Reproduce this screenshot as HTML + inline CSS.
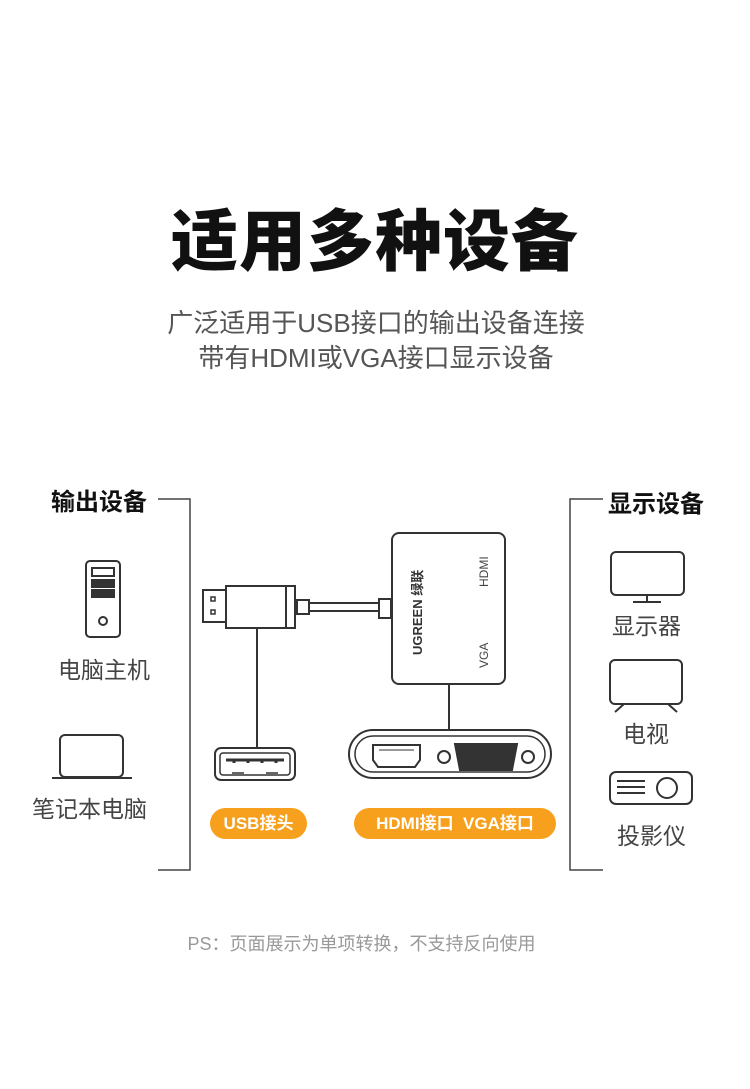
<!DOCTYPE html>
<html><head><meta charset="utf-8"><style>
html,body{margin:0;padding:0;background:#fff}
body{width:750px;height:1089px;position:relative;overflow:hidden;font-family:"Liberation Sans","Noto Sans CJK SC",sans-serif}
.t{position:absolute;white-space:nowrap}
</style></head><body>
<div class="t" style="left:0;width:750px;top:188px;text-align:center;font-size:67px;font-weight:900;color:#111;letter-spacing:1px">适用多种设备</div>
<div class="t" style="left:0;width:752px;top:306px;text-align:center;font-size:26px;color:#555;line-height:35px">广泛适用于USB接口的输出设备连接<br>带有HDMI或VGA接口显示设备</div>
<div class="t" style="left:51px;top:482px;font-size:24px;font-weight:bold;color:#111">输出设备</div>
<div class="t" style="left:608px;top:484px;font-size:24px;font-weight:bold;color:#111">显示设备</div>
<div class="t" style="left:58px;top:651px;font-size:23px;color:#444">电脑主机</div>
<div class="t" style="left:32px;top:790px;font-size:23px;color:#444">笔记本电脑</div>
<div class="t" style="left:612px;top:607px;font-size:23px;color:#444">显示器</div>
<div class="t" style="left:623px;top:715px;font-size:23px;color:#444">电视</div>
<div class="t" style="left:617px;top:817px;font-size:23px;color:#444">投影仪</div>
<div class="t" style="left:210px;top:808px;width:97px;height:31px;border-radius:16px;background:#f7a01d;color:#fff;font-size:17px;font-weight:bold;text-align:center;line-height:31px">USB接头</div>
<div class="t" style="left:354px;top:808px;width:202px;height:31px;border-radius:16px;background:#f7a01d;color:#fff;font-size:17px;font-weight:bold;text-align:center;line-height:31px">HDMI接口&nbsp; VGA接口</div>
<div class="t" style="left:0;width:723px;top:930px;text-align:center;font-size:18px;color:#999">PS：页面展示为单项转换，不支持反向使用</div>
<svg width="750" height="1089" style="position:absolute;left:0;top:0" fill="none" stroke="#333" stroke-width="2">
<path d="M158 499H190V870H158" stroke="#444" stroke-width="1.5"/>
<path d="M603 499H570V870H603" stroke="#444" stroke-width="1.5"/>
<rect x="86" y="561" width="34" height="76" rx="4"/>
<rect x="92" y="568" width="22" height="8"/>
<rect x="92" y="580" width="22" height="7" fill="#333"/>
<rect x="92" y="590" width="22" height="7" fill="#333"/>
<circle cx="103" cy="621" r="4"/>
<rect x="60" y="735" width="63" height="42" rx="5"/>
<path d="M52 778H132"/>
<rect x="611" y="552" width="73" height="43" rx="5"/>
<path d="M647 595V602M633 602H661"/>
<rect x="610" y="660" width="72" height="44" rx="5"/>
<path d="M624 704L615 712M668 704L677 712"/>
<rect x="610" y="772" width="82" height="32" rx="6"/>
<path d="M617 781H645M617 787H645M617 793H645"/>
<circle cx="667" cy="788" r="10"/>
<rect x="203" y="590" width="23" height="32" fill="#fff"/>
<rect x="211" y="597" width="4" height="4" stroke-width="1.5"/>
<rect x="211" y="610" width="4" height="4" stroke-width="1.5"/>
<rect x="226" y="586" width="60" height="42" fill="#fff"/>
<rect x="286" y="586" width="9" height="42" fill="#fff"/>
<rect x="297" y="600" width="12" height="14" fill="#fff"/>
<rect x="309" y="603" width="70" height="8"/>
<rect x="379" y="599" width="12" height="19" fill="#fff"/>
<path d="M257 628V748"/>
<rect x="215" y="748" width="80" height="32" rx="6"/>
<rect x="220" y="753" width="70" height="22" rx="3" stroke-width="1.5"/>
<path d="M226 760H284" stroke-width="3"/>
<path d="M234 760v3M248 760v3M262 760v3M276 760v3" stroke-width="3"/>
<path d="M232 773H244M266 773H278" stroke-width="1.5"/>
<rect x="392" y="533" width="113" height="151" rx="7" fill="#fff"/>
<path d="M449 684V730"/>
<rect x="349" y="730" width="202" height="48" rx="24"/>
<rect x="355" y="736" width="190" height="36" rx="18" stroke-width="1.5"/>
<path d="M373 745H420V760L415 767H378L373 760Z"/>
<path d="M379 750H414" stroke-width="1"/>
<circle cx="444" cy="757" r="6"/>
<path d="M455 744H517L512 770H460Z" fill="#333"/>
<circle cx="528" cy="757" r="6"/>
</svg>
<div class="t" style="left:407px;top:655px;font-size:13px;font-weight:bold;color:#333;transform:rotate(-90deg);transform-origin:0 0">UGREEN 绿联</div>
<div class="t" style="left:477px;top:587px;font-size:12px;color:#444;transform:rotate(-90deg);transform-origin:0 0">HDMI</div>
<div class="t" style="left:477px;top:668px;font-size:12px;color:#444;transform:rotate(-90deg);transform-origin:0 0">VGA</div>
</body></html>
